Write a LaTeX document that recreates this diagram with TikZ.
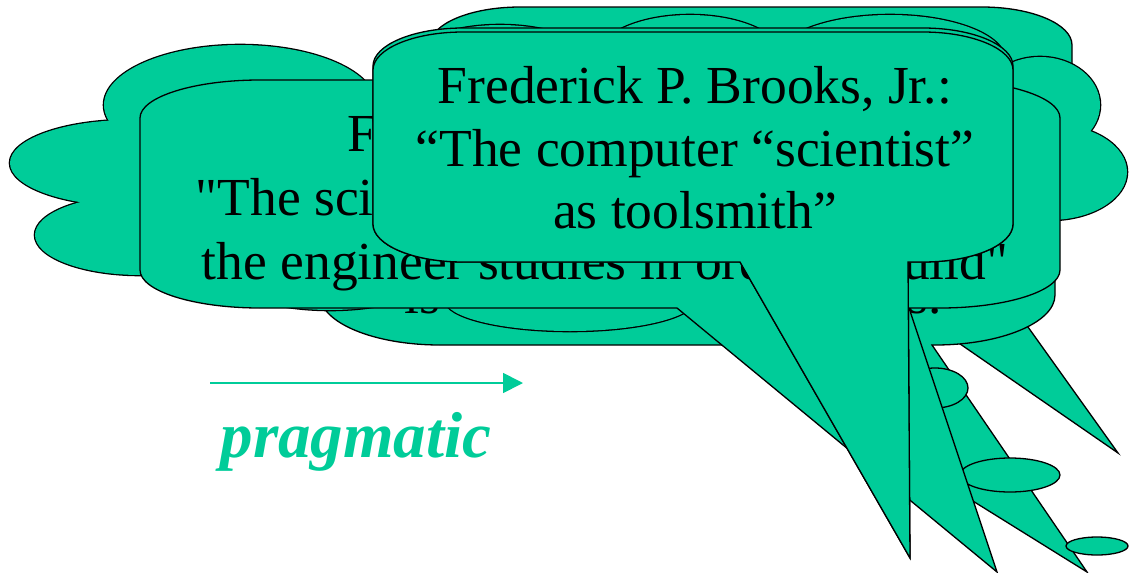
\documentclass[tikz,border=0pt]{standalone}
\usepackage{fontspec}
\setmainfont{Liberation Serif}[Ligatures=TeXOff]
\usetikzlibrary{arrows.meta}
\definecolor{tg}{RGB}{0,204,153}
% rounded-rectangle callout outline: x1,y1,x2,y2,rx,ry, tail (right base -- tip -- left base)
\newcommand\rrcall[7]{%
 (#1,{#2+#6}) .. controls (#1,{#2+0.448*#6}) and ({#1+0.448*#5},#2) .. ({#1+#5},#2)
 -- ({#3-#5},#2) .. controls ({#3-0.448*#5},#2) and (#3,{#2+0.448*#6}) .. (#3,{#2+#6})
 -- (#3,{#4-#6}) .. controls (#3,{#4-0.448*#6}) and ({#3-0.448*#5},#4) .. ({#3-#5},#4)
 -- #7 -- ({#1+#5},#4) .. controls ({#1+0.448*#5},#4) and (#1,{#4-0.448*#6}) .. (#1,{#4-#6}) -- cycle}
\tikzset{
 callout/.style={fill=tg, draw=black, line width=1.3pt, line join=miter},
 quote/.style={font=\fontsize{53.5}{63}\selectfont, anchor=base, inner sep=0pt},
 cloudrim/.style={draw=black, line width=2.6pt},
}
\begin{document}
\begin{tikzpicture}[x=1pt,y=-1pt]
\useasboundingbox (0,0) rectangle (1133,573);

% back rounded rectangle
\draw[callout] \rrcall{430}{7}{1072}{200}{90}{38}{(700,200)};
% hidden-base tail behind R2
\draw[callout] (824,250) -- (1118,453) -- (973,250) -- cycle;
% R2 callout
\draw[callout] \rrcall{320}{115}{1055}{345}{120}{50}{(932,345) -- (1087,572) -- (722,345)};

% cloud callout
\foreach \cx/\cy/\rx/\ry in {130/163/120/43, 140/235/105/40, 240/105/136/60,
  500/70/100/45, 690/60/95/45, 890/60/115/45, 1040/105/60/48, 1050/172/77/48,
  330/270/110/40, 570/300/125/31, 870/270/150/35}
  \draw[cloudrim] (\cx,\cy) ellipse [x radius=\rx, y radius=\ry];
\foreach \cx/\cy/\rx/\ry in {130/163/120/43, 140/235/105/40, 240/105/136/60,
  500/70/100/45, 690/60/95/45, 890/60/115/45, 1040/105/60/48, 1050/172/77/48,
  330/270/110/40, 570/300/125/31, 870/270/150/35}
  \fill[tg] (\cx,\cy) ellipse [x radius=\rx, y radius=\ry];
\fill[tg] (150,110) rectangle (1030,270);
\draw[callout] (935,388) ellipse [x radius=33, y radius=20];
\draw[callout] (1010,475) ellipse [x radius=50, y radius=17];
\draw[callout] (1097,546) ellipse [x radius=31, y radius=9];

% text fragments peeking below M
\node[quote] (frag1) at (422,313) {is};
\node[quote] (frag2) at (925,313) {s.};

% middle callout
\draw[callout] \rrcall{140}{80}{1060}{308}{120}{38}{(909,308) -- (997,572) -- (677,308)};
\node[quote] (m1) at (605,151) {Frederick P. Brooks, Jr.:};
\node[quote] (m2) at (605,215) {"The scientist builds in order to study;};
\node[quote] (m3) at (605,279) {the engineer studies in order to build"};

% front callout
\draw[callout] \rrcall{373}{28}{1013}{262}{90}{38}{(908,262) -- (910,558) -- (740,262)};
\draw[callout] \rrcall{373}{32}{1013}{262}{90}{38}{(908,262) -- (910,558) -- (740,262)};
\node[quote] (f1) at (695,103) {Frederick P. Brooks, Jr.:};
\node[quote] (f2) at (695,166) {“The computer “scientist”};
\node[quote] (f3) at (695,228) {as toolsmith”};

% arrow and label
\coordinate (a0) at (210,383);
\coordinate (a1) at (523,383);
\draw[tg, line width=1.8pt, -{Triangle[length=20pt,width=20pt]}] (a0) -- (a1);
\node[font=\fontsize{65}{70}\selectfont\bfseries\itshape, text=tg, anchor=base, inner sep=0pt] (prag) at (356,457) {pragmatic};
\end{tikzpicture}
\end{document}
